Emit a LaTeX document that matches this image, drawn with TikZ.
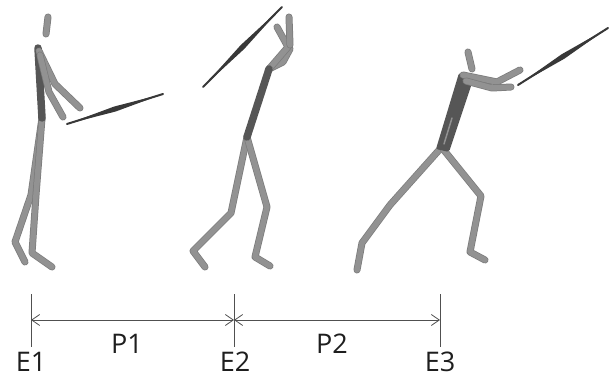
\documentclass[tikz,border=0pt]{standalone}
\usepackage{fontspec}
\setmainfont{Open Sans}
\usetikzlibrary{arrows.meta,calc}

\definecolor{limbgray}{HTML}{929292}
\definecolor{limbedge}{HTML}{7C7C7C}
\definecolor{torsogray}{HTML}{565656}
\definecolor{clubgray}{HTML}{383838}
\definecolor{axisgray}{HTML}{505050}
\definecolor{labelgray}{HTML}{1E1E1E}

\tikzset{
  limb/.style={draw=limbgray, line width=5.5pt, line cap=round, line join=round,
    preaction={draw=limbedge, line width=7pt, line cap=round, line join=round}},
  torso/.style={draw=torsogray, line width=7.5pt, line cap=round, line join=round},
  tick/.style={draw=axisgray, line width=0.8pt},
  span/.style={draw=axisgray, line width=0.8pt,
    {Straight Barb[length=8pt,width=11pt]}-{Straight Barb[length=8pt,width=11pt]}},
  lbl/.style={text=labelgray, font=\fontsize{27}{30}\selectfont, inner sep=0pt}
}

% tapered club between two points
\newcommand{\clubline}[2]{%
  \fill[clubgray] (#1) -- ($(#1)!0.5!(#2)!2.6pt!90:(#2)$) -- (#2)
    -- ($(#1)!0.5!(#2)!2.6pt!-90:(#2)$) -- cycle;
  \draw[clubgray, line width=2pt, line cap=round] (#1) -- (#2);}

\begin{document}
\begin{tikzpicture}[x=1pt,y=-1pt]
\useasboundingbox[fill=white] (0,0) rectangle (611,379);

% ---- golfer at address ----
\coordinate (a-sh) at (38,48);
\coordinate (a-hip) at (42,118);
\draw[limb] (a-hip) -- (31,195) -- (15,242) -- (25,262);
\draw[limb] (a-hip) -- (36,195) -- (32,253) -- (52,267);
\draw[torso] (a-sh) -- (a-hip);
\draw[limb] (48,17) -- (46,34);
\draw[limb] (39,51) -- (55,84) -- (80,108);
\draw[limb] (40,55) -- (49,92) -- (63,117);
\coordinate (a-c1) at (67,124);
\coordinate (a-c2) at (163,94);
\clubline{a-c1}{a-c2}

% ---- golfer at top of backswing ----
\coordinate (b-sh) at (269,69);
\coordinate (b-hip) at (247,137);
\draw[limb] (b-hip) -- (231,213) -- (193,251) -- (205,267);
\draw[limb] (b-hip) -- (267,207) -- (255,257) -- (270,266);
\draw[limb] (b-sh) -- (283,62) -- (290,49);
\draw[limb] (b-sh) -- (288,47) -- (277,27);
\draw[limb] (290,45) -- (289,17);
\draw[torso] (b-sh) -- (b-hip);
\coordinate (b-c1) at (203,87);
\coordinate (b-c2) at (282,7);
\clubline{b-c1}{b-c2}

% ---- golfer after impact ----
\coordinate (c-hip) at (440,149);
\draw[limb] (c-hip) -- (390,205) -- (362,243) -- (357,270);
\draw[limb] (443,149) -- (481,196) -- (470,252) -- (485,260);
\fill[torsogray, rounded corners=2pt] (459,73) -- (474,77) -- (449,152) -- (436,149) -- cycle;
\draw[limbgray, line width=1.5pt, line cap=round] (452,118) -- (444,144);
\draw[limb] (468,52) -- (472,69);
\draw[limb] (463,75) -- (497,82) -- (520,70);
\draw[limb] (466,81) -- (492,88) -- (511,87);
\coordinate (c-c1) at (518,85);
\coordinate (c-c2) at (608,28);
\clubline{c-c1}{c-c2}

% ---- phase timeline ----
\coordinate (E1) at (31,320);
\coordinate (E2) at (234,320);
\coordinate (E3) at (440,320);
\foreach \e in {E1,E2,E3}
  \draw[tick] ([yshift=-27pt]\e) -- ([yshift=26pt]\e);
\draw[span] (E1) -- (E2);
\draw[span] (E2) -- (E3);

\node[lbl] (tE1) at (31,362) {E1};
\node[lbl] (tE2) at (235,362) {E2};
\node[lbl] (tE3) at (440,362) {E3};
\node[lbl] (tP1) at (127,344) {P1};
\node[lbl] (tP2) at (332,344) {P2};
\end{tikzpicture}
\end{document}
